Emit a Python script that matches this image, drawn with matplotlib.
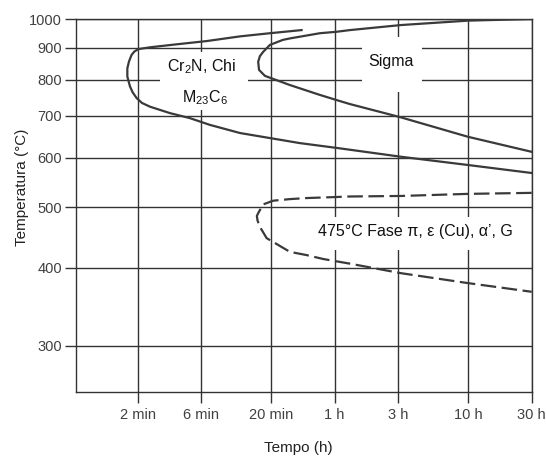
import matplotlib.pyplot as plt
from matplotlib.patches import Rectangle

plt.rcParams['font.family'] = ['Liberation Sans', 'DejaVu Sans']
plt.rcParams['mathtext.fontset'] = 'custom'
plt.rcParams['mathtext.rm'] = 'Liberation Sans'
plt.rcParams['mathtext.it'] = 'Liberation Sans:italic'

# eixo x: tempo em horas, eixo y: temperatura em °C
tick_hours = [1 / 30, 0.1, 1 / 3, 1, 3, 10, 30]
tick_labels = ['2 min', '6 min', '20 min', '1 h', '3 h', '10 h', '30 h']
temp_ticks = [300, 400, 500, 600, 700, 800, 900, 1000]

# curva Cr2N, Chi, M23C6
cr2n_t = [0.565, 0.327, 0.195, 0.110, 0.0654, 0.0412, 0.0337, 0.0315, 0.0300,
          0.0287, 0.0279, 0.0279, 0.0292, 0.0306, 0.0328, 0.0359, 0.0412, 0.0582,
          0.0822, 0.116, 0.195, 0.549, 1.03, 3.14, 9.97, 30]
cr2n_T = [960, 949, 938, 922, 911, 901, 895, 887, 876,
          855, 834, 809, 780, 763, 747, 734, 724, 707,
          694, 677, 657, 633, 622, 602, 584, 567]

# curva Sigma
sigma_t = [30, 9.97, 3.14, 1.30, 1.03, 0.775, 0.462, 0.409, 0.327, 0.291,
           0.275, 0.267, 0.271, 0.300, 0.462, 0.775, 1.03, 1.30, 3.14, 9.97, 30]
sigma_T = [1000, 994, 978, 960, 954, 949, 931, 926, 909, 886,
           872, 854, 829, 811, 784, 756, 742, 731, 696, 648, 613]

# curva 475 °C (tracejada)
fase_t = [30, 9.92, 3.14, 1.30, 1.03, 0.616, 0.462, 0.346, 0.291, 0.267,
          0.261, 0.264, 0.275, 0.309, 0.462, 0.616, 0.821, 1.30, 3.14, 9.92, 30]
fase_T = [527, 525, 521, 520, 519, 517, 515, 512, 505, 489,
          484, 476, 465, 446, 424, 419, 413, 406, 392, 378, 366]

line_col = '#3a3a3a'
grid_col = '#333333'

fig = plt.figure(figsize=(5.46, 4.57), dpi=100)
ax = fig.add_axes([0.1392, 0.1422, 0.8346, 0.8162])
ax.set_xscale('log')
ax.set_yscale('log')
ax.set_xlim(0.0115, 30)
ax.set_ylim(253, 1000)
ax.set_xticks(tick_hours, tick_labels)
ax.set_yticks(temp_ticks, [str(t) for t in temp_ticks])
ax.minorticks_off()

ax.grid(True, color=grid_col, linewidth=1.0, zorder=0)
ax.set_axisbelow(True)
for sp in ax.spines.values():
    sp.set_color(grid_col)
    sp.set_linewidth(1.0)
ax.tick_params(axis='both', direction='out', length=8, width=1.0, color=grid_col,
               labelsize=10.5, labelcolor='#404040')
ax.tick_params(axis='y', pad=2)
ax.tick_params(axis='x', pad=3.5)

# fundos brancos das legendas internas
for (x0, y0, w, h) in [(0.1843, 0.756, 0.1931, 0.1555),
                       (0.6276, 0.8043, 0.1317, 0.1474),
                       (0.5091, 0.3807, 0.4694, 0.0885)]:
    ax.add_patch(Rectangle((x0, y0), w, h, transform=ax.transAxes,
                           facecolor='white', edgecolor='none', zorder=1))

ax.plot(cr2n_t, cr2n_T, color=line_col, linewidth=1.6, zorder=3)
ax.plot(sigma_t, sigma_T, color=line_col, linewidth=1.6, zorder=3)
ax.plot(fase_t, fase_T, color=line_col, linewidth=1.6, dashes=(7, 2.5), zorder=3)

txt = dict(transform=ax.transAxes, ha='center', va='center', fontsize=11.5,
           color='#111111', zorder=4)
ax.text(0.2758, 0.8721, r'Cr$_2$N, Chi', **txt)
ax.text(0.2831, 0.7882, r'M$_{23}$C$_6$', **txt)
ax.text(0.6906, 0.8855, 'Sigma', **txt)
ax.text(0.7439, 0.4298, '475°C Fase π, ε (Cu), α’, G', **txt)

ax.set_xlabel('Tempo (h)', fontsize=11, color='#222222', va='center')
ax.set_ylabel('Temperatura (°C)', fontsize=11, color='#222222', va='center')
ax.xaxis.set_label_coords(0.4872, -0.1501)
ax.yaxis.set_label_coords(-0.1192, 0.5496)

fig.savefig('out.png', dpi=100)
